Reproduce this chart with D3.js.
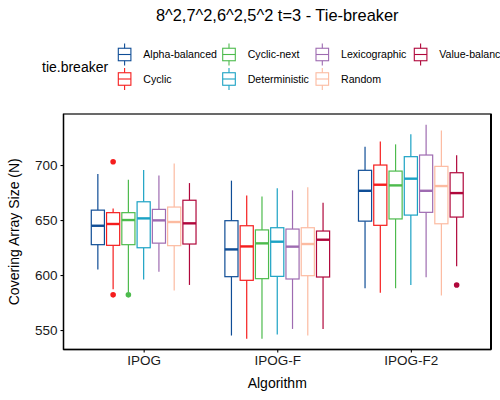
<!DOCTYPE html>
<html>
<head>
<meta charset="utf-8">
<script src="https://cdn.jsdelivr.net/npm/d3@7"></script>
<style>
  body { margin: 0; background: #fff; }
  svg { display: block; font-family: "Liberation Sans", Arial, sans-serif; }
</style>
</head>
<body>
<svg id="chart" width="500" height="400"></svg>
<script>
// ---------- data ----------
const algorithms = ["IPOG", "IPOG-F", "IPOG-F2"];
const tieBreakers = ["Alpha-balanced", "Cyclic", "Cyclic-next", "Deterministic", "Lexicographic", "Random", "Value-balanced"];
const colors = ["#0f4d96", "#f51d1d", "#4dbb4d", "#1ba2c4", "#9e6bb1", "#fcbba1", "#b0073b"];

// rows = algorithm, columns = tie-breaker
const whiskerLow = [
  [605, 587, 584.5, 596, 603, 586, 591],
  [545, 542, 542, 546, 551, 545, 551],
  [588, 584, 588, 591, 598, 581.5, 608]
];
const q1 = [
  [627.6, 627, 627.6, 624.8, 629, 626.7, 628.2],
  [598.5, 595.2, 596.7, 598.8, 596.4, 599.4, 598.2],
  [649, 645.2, 651, 654.5, 657, 646.6, 652.7]
];
const median = [
  [644.8, 646.4, 650, 651.5, 649.7, 648.2, 647],
  [623.3, 626, 628.8, 630.3, 625.8, 628.2, 632.1],
  [676.6, 682.1, 681.5, 687.6, 676.6, 680.9, 674.5]
];
const q3 = [
  [659, 656.7, 656.7, 666.6, 659.7, 661.8, 668],
  [649.4, 644.8, 641, 643, 641.8, 643, 640],
  [695.2, 700, 694.5, 707.6, 709.1, 698.8, 693]
];
const whiskerHigh = [
  [691.8, 660.6, 686.6, 695.5, 690.6, 701.5, 683.6],
  [685.8, 672.4, 671.5, 678.8, 677, 679.7, 665.8],
  [716.7, 721.5, 718.8, 727.9, 736.6, 731.5, 708.8]
];
// outliers: [algorithm index, tie-breaker index, value]
const outliers = [
  [0, 1, 703], [0, 1, 582], [0, 2, 582], [2, 6, 591]
];
const yTicks = [550, 600, 650, 700];

// ---------- layout ----------
const svg = d3.select("#chart");
const panel = { left: 63.5, right: 491, top: 114, bottom: 349.5 };

const x = d3.scalePoint().domain(algorithms).range([panel.left, panel.right]).padding(0.6);
const step = x.step();
const xi = d3.scaleBand().domain(tieBreakers).range([-step * 0.4, step * 0.4]);
const boxW = xi.bandwidth() * 0.86;
const y = d3.scaleLinear().domain([532.3, 746.4]).range([panel.bottom, panel.top]);
const color = d3.scaleOrdinal().domain(tieBreakers).range(colors);

// panel background
svg.append("rect")
  .attr("x", panel.left).attr("y", panel.top)
  .attr("width", panel.right - panel.left).attr("height", panel.bottom - panel.top)
  .attr("fill", "#fff").attr("stroke", "#1a1a1a").attr("stroke-width", 1.3);

// boxes
const boxes = [];
algorithms.forEach((a, i) => tieBreakers.forEach((t, j) => {
  boxes.push({ a, t, lo: whiskerLow[i][j], q1: q1[i][j], med: median[i][j], q3: q3[i][j], hi: whiskerHigh[i][j] });
}));

const g = svg.append("g");
const bg = g.selectAll("g.box").data(boxes).join("g")
  .attr("transform", d => `translate(${x(d.a) + xi(d.t) + xi.bandwidth() / 2},0)`);

bg.append("line").attr("x1", 0).attr("x2", 0)
  .attr("y1", d => y(d.hi)).attr("y2", d => y(d.q3))
  .attr("stroke", d => color(d.t)).attr("stroke-width", 1.2);
bg.append("line").attr("x1", 0).attr("x2", 0)
  .attr("y1", d => y(d.q1)).attr("y2", d => y(d.lo))
  .attr("stroke", d => color(d.t)).attr("stroke-width", 1.2);
bg.append("rect")
  .attr("x", -boxW / 2).attr("width", boxW)
  .attr("y", d => y(d.q3)).attr("height", d => y(d.q1) - y(d.q3))
  .attr("fill", "#fff").attr("stroke", d => color(d.t)).attr("stroke-width", 1.2);
bg.append("line").attr("x1", -boxW / 2).attr("x2", boxW / 2)
  .attr("y1", d => y(d.med)).attr("y2", d => y(d.med))
  .attr("stroke", d => color(d.t)).attr("stroke-width", 2.4);

g.selectAll("circle.out").data(outliers).join("circle")
  .attr("cx", d => x(algorithms[d[0]]) + xi(tieBreakers[d[1]]) + xi.bandwidth() / 2)
  .attr("cy", d => y(d[2]))
  .attr("r", 2.8)
  .attr("fill", d => color(tieBreakers[d[1]]));

// axes
const yAxis = svg.append("g").attr("transform", `translate(${panel.left},0)`)
  .call(d3.axisLeft(y).tickValues(yTicks).tickSizeInner(3).tickSizeOuter(0).tickPadding(3));
const xAxis = svg.append("g").attr("transform", `translate(0,${panel.bottom})`)
  .call(d3.axisBottom(x).tickSizeInner(3).tickSizeOuter(0).tickPadding(3));
[yAxis, xAxis].forEach(ax => {
  ax.select(".domain").attr("stroke", "#000").attr("stroke-width", 1.3);
  ax.selectAll(".tick line").attr("stroke", "#000").attr("stroke-width", 1.1);
  ax.selectAll(".tick text").attr("fill", "#1a1a1a").style("font-size", "13.5px")
    .style("font-family", "Liberation Sans, Arial, sans-serif");
});
yAxis.select(".domain").attr("d", `M0,${panel.top}V${panel.bottom}`);
xAxis.select(".domain").attr("d", `M${panel.left},0H${panel.right}`);
// right border thicker
svg.append("line").attr("x1", panel.right).attr("x2", panel.right)
  .attr("y1", panel.top).attr("y2", panel.bottom).attr("stroke", "#000").attr("stroke-width", 2);

// axis titles
svg.append("text").attr("x", (panel.left + panel.right) / 2).attr("y", 388)
  .attr("text-anchor", "middle").style("font-size", "14px").attr("fill", "#000").text("Algorithm");
svg.append("text").attr("transform", `translate(19,${(panel.top + panel.bottom) / 2}) rotate(-90)`)
  .attr("text-anchor", "middle").style("font-size", "14px").attr("fill", "#000").text("Covering Array Size (N)");

// title
svg.append("text").attr("x", (panel.left + panel.right) / 2).attr("y", 21)
  .attr("text-anchor", "middle").style("font-size", "16.4px").attr("fill", "#000")
  .text("8^2,7^2,6^2,5^2 t=3 - Tie-breaker");

// legend
svg.append("text").attr("x", 42).attr("y", 72).style("font-size", "14px").attr("fill", "#000").text("tie.breaker");
const colX = [118.3, 222.7, 316, 414.3];
const rowY = [54.5, 79];
const lg = svg.selectAll("g.leg").data(tieBreakers).join("g")
  .attr("transform", (d, k) => `translate(${colX[Math.floor(k / 2)]},${rowY[k % 2]})`);
const kw = 12.6, kh = 12.5;
lg.append("line").attr("x1", kw / 2).attr("x2", kw / 2).attr("y1", -11).attr("y2", 11)
  .attr("stroke", d => color(d)).attr("stroke-width", 1.1);
lg.append("rect").attr("x", 0).attr("y", -kh / 2).attr("width", kw).attr("height", kh)
  .attr("fill", "#fff").attr("stroke", d => color(d)).attr("stroke-width", 1.1);
lg.append("line").attr("x1", 0).attr("x2", kw).attr("y1", 0).attr("y2", 0)
  .attr("stroke", d => color(d)).attr("stroke-width", 1.1);
lg.append("text").attr("x", 25).attr("y", 3.8).style("font-size", "10.6px").attr("fill", "#000").text(d => d);
</script>
</body>
</html>
